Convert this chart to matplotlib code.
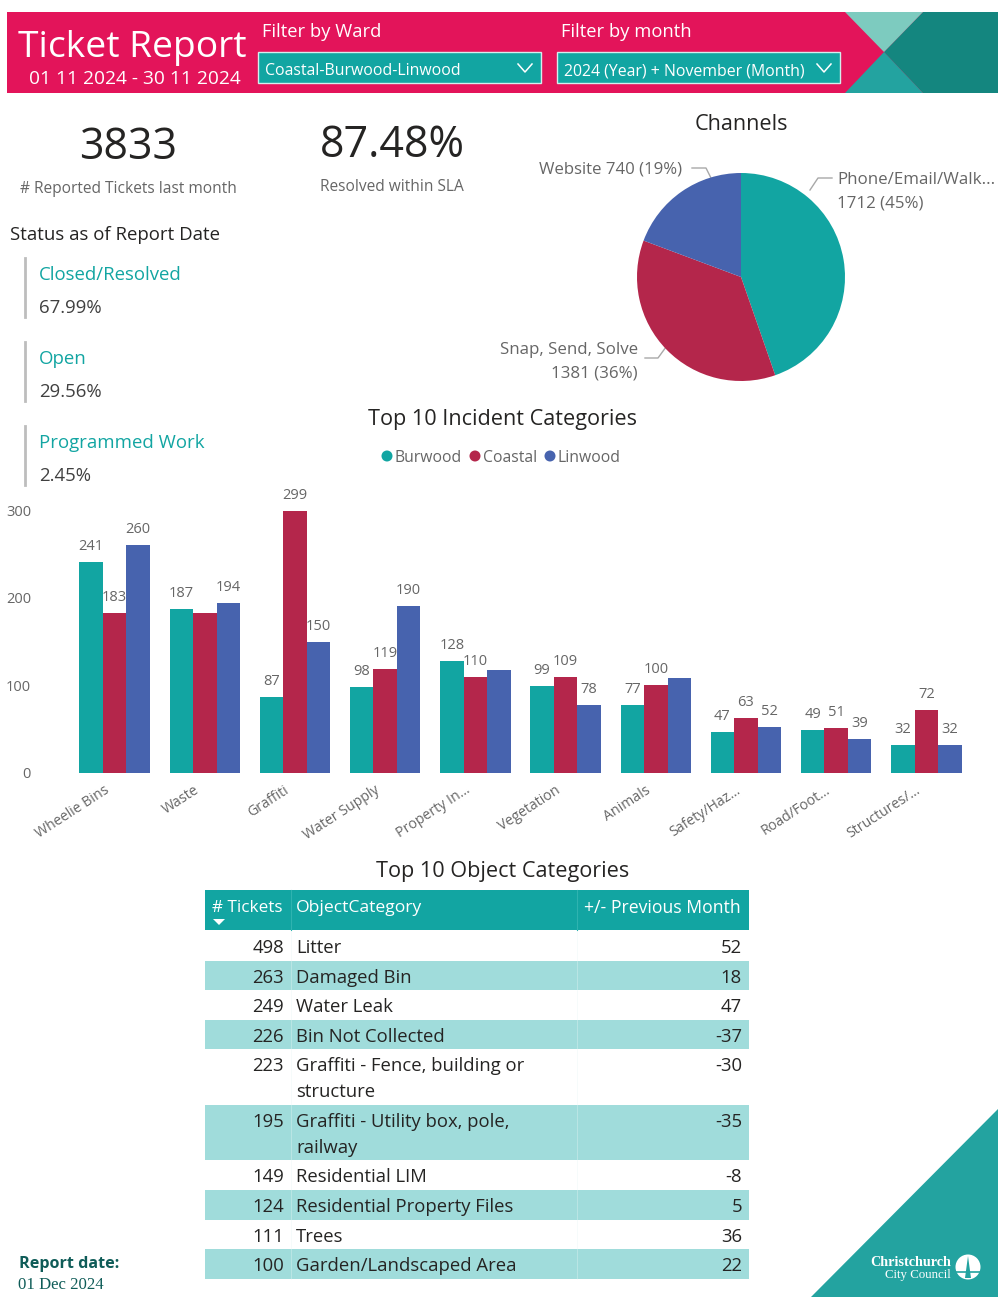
import matplotlib
matplotlib.use("Agg")
import matplotlib.pyplot as plt
from matplotlib.patches import Polygon, Rectangle, Circle
from matplotlib.transforms import ScaledTranslation

plt.rcParams['font.family'] = ['Open Sans', 'DejaVu Sans']

TEAL = '#12A5A2'
CRIMSON = '#B4264B'
BLUE = '#4763AE'
PINK = '#E3145A'
GREY = '#666666'
DARK = '#252423'

wards = ['Burwood', 'Coastal', 'Linwood']
ward_colors = [TEAL, CRIMSON, BLUE]
incident_cats = ['Wheelie Bins', 'Waste', 'Graffiti', 'Water Supply', 'Property In...',
                 'Vegetation', 'Animals', 'Safety/Haz...', 'Road/Foot...', 'Structures/...']
burwood = [241, 187, 87, 98, 128, 99, 77, 47, 49, 32]
coastal = [183, 183, 299, 119, 110, 109, 100, 63, 51, 72]
linwood = [260, 194, 150, 190, 117, 78, 108, 52, 39, 32]
# the report leaves these bars without a label
unlabelled = [(1, 1), (2, 4), (2, 6)]

channel_values = [1712, 1381, 740]
channel_colors = [TEAL, CRIMSON, BLUE]

tickets = [498, 263, 249, 226, 223, 195, 149, 124, 111, 100]
objects = ['Litter', 'Damaged Bin', 'Water Leak', 'Bin Not Collected',
           'Graffiti - Fence, building or\nstructure', 'Graffiti - Utility box, pole,\nrailway',
           'Residential LIM', 'Residential Property Files', 'Trees', 'Garden/Landscaped Area']
prev_month = [52, 18, 47, -37, -30, -35, -8, 5, 36, 22]

W, H = 1004, 1311
fig = plt.figure(figsize=(W / 100, H / 100), dpi=100)

# page layer in pixel coordinates
page = fig.add_axes([0, 0, 1, 1])
page.set_xlim(0, W)
page.set_ylim(H, 0)
page.axis('off')


def axes_px(x0, y0, x1, y1):
    return fig.add_axes([x0 / W, 1 - y1 / H, (x1 - x0) / W, (y1 - y0) / H])


def label(x, y, s, size, color=DARK, ha='left', **kw):
    page.text(x, y + 4, s, fontsize=size, color=color, ha=ha, va='center', **kw)


def chevron(x, y):
    page.plot([x - 7, x, x + 7], [y - 4, y + 4, y - 4], color='white', lw=1.1)


# banner
page.add_patch(Rectangle((7, 12), 991, 81, color=PINK, lw=0))
page.add_patch(Polygon([(923, 12), (998, 12), (998, 93), (923, 93), (884, 52)], color='#14867F', lw=0))
page.add_patch(Polygon([(845, 12), (923, 12), (884, 52)], color='#7DCBBF', lw=0))
page.add_patch(Polygon([(845, 93), (923, 93), (884, 52)], color='#23A3A0', lw=0))
label(132, 44, 'Ticket Report', 26.8, 'white', ha='center')
label(135, 75, '01 11 2024 - 30 11 2024', 13.8, 'white', ha='center')
label(262, 28, 'Filter by Ward', 13.2, 'white')
label(561, 28, 'Filter by month', 13.2, 'white')
for x0, x1, s in [(258, 541, 'Coastal-Burwood-Linwood'), (557, 840, '2024 (Year) + November (Month)')]:
    page.add_patch(Rectangle((x0, 52), x1 - x0, 31, fc=TEAL, ec='#D5EEEE', lw=1))
    label(x0 + 7, 67, s, 11.4, 'white')
    chevron(x1 - 16, 68)

# KPI cards
label(128, 144, '3833', 31, ha='center')
label(128, 185, '# Reported Tickets last month', 11.2, GREY, ha='center')
label(392, 142, '87.48%', 31, ha='center')
label(392, 183, 'Resolved within SLA', 11.2, GREY, ha='center')

label(10, 231, 'Status as of Report Date', 13.4)
for y, name, pct in [(258, 'Closed/Resolved', '67.99%'), (342, 'Open', '29.56%'), (426, 'Programmed Work', '2.45%')]:
    page.plot([25, 25], [y, y + 59], color='#BDBDBD', lw=2)
    label(39, y + 13, name, 13.4, TEAL)
    label(39, y + 46, pct, 13.4, '#404040')

# channels pie
label(741, 120, 'Channels', 15.6, ha='center')
ax_pie = axes_px(637, 173, 845, 381)
ax_pie.pie(channel_values, colors=channel_colors, startangle=90, counterclock=False, radius=1,
           wedgeprops={'lw': 0})
ax_pie.set_xlim(-1, 1)
ax_pie.set_ylim(-1, 1)
label(837, 176, 'Phone/Email/Walk...', 12.2, GREY)
label(837, 200, '1712 (45%)', 12.2, GREY)
page.plot([810, 818, 832], [190, 178, 178], color='#A8A8A8', lw=1)
label(682, 166, 'Website 740 (19%)', 12.1, GREY, ha='right')
page.plot([692, 706, 711], [168, 168, 178], color='#A8A8A8', lw=1)
label(638, 346, 'Snap, Send, Solve', 12.2, GREY, ha='right')
label(638, 370, '1381 (36%)', 12.2, GREY, ha='right')
page.plot([645, 658, 666], [358, 358, 347], color='#A8A8A8', lw=1)

# incident bars, 3 bars per group, 90.2px apart
label(503, 415, 'Top 10 Incident Categories', 15.6, ha='center')
for x, name, c in zip([387, 475, 550], wards, ward_colors):
    page.add_patch(Circle((x, 456), 5.5, color=c, lw=0))
    label(x + 8, 454, name, 11.3, GREY)

bar_w = 23.5
group_step = 90.2
ax_bar = axes_px(0, 510, W, 773)
ax_bar.set_xlim(-114.6, W - 114.6)
ax_bar.set_ylim(0, 300)
ax_bar.patch.set_alpha(0)
for i, (vals, c) in enumerate(zip([burwood, coastal, linwood], ward_colors)):
    xs = [g * group_step + (i - 1) * bar_w for g in range(len(vals))]
    ax_bar.bar(xs, vals, width=bar_w, color=c, lw=0)
    for g, (x, v) in enumerate(zip(xs, vals)):
        if (i, g) not in unlabelled:
            ax_bar.annotate(str(v), (x, v), xytext=(0, 8), textcoords='offset pixels', ha='center',
                            va='bottom', fontsize=10.5, color=GREY, annotation_clip=False)
for s in ax_bar.spines.values():
    s.set_visible(False)
ax_bar.set_yticks([])
ax_bar.set_xticks([g * group_step for g in range(len(incident_cats))])
ax_bar.set_xticklabels(incident_cats, rotation=33, ha='right', rotation_mode='anchor',
                       fontsize=10.2, color=GREY)
ax_bar.tick_params(axis='x', length=0, pad=7)
shift = ScaledTranslation(-11 / 100, 0, fig.dpi_scale_trans)
for t in ax_bar.get_xticklabels():
    t.set_transform(t.get_transform() + shift)
for v in [0, 100, 200, 300]:
    label(31, 771 - v * 263 / 300, str(v), 10.5, GREY, ha='right')

# object table
label(503, 868, 'Top 10 Object Categories', 15.6, ha='center')
t_left, t_right = 205, 749
page.add_patch(Rectangle((t_left, 890), t_right - t_left, 40, color=TEAL, lw=0))
label(212, 904, '# Tickets', 12.3, 'white')
label(296, 904, 'ObjectCategory', 12.6, 'white')
label(741, 904, '+/- Previous Month', 12.7, 'white', ha='right')
page.add_patch(Polygon([(213, 919), (225, 919), (219, 925)], color='white', lw=0))

y = 931
for i, (n, name, d) in enumerate(zip(tickets, objects, prev_month)):
    wrapped = '\n' in name
    h = 55.5 if wrapped else 29.6
    if i % 2 == 1:
        page.add_patch(Rectangle((t_left, y), t_right - t_left, h, color='#A0DCDB', lw=0))
    y_text = y + 13
    label(284, y_text, str(n), 13.3, ha='right')
    label(742, y_text, str(d), 13.3, ha='right')
    for k, part in enumerate(name.split('\n')):
        label(296, y_text + k * 26, part, 13.3)
    y += h

# column dividers
for x in [291, 577]:
    page.plot([x, x], [890, 930], color='#2FB3B0', lw=0.8)
    page.plot([x, x], [931, y], color='#E8F6F6', lw=0.5, alpha=0.5)

# footer
label(19, 1260, 'Report date:', 11.6, '#0F5C58', fontweight='bold')
label(18, 1281, '01 Dec 2024', 12.1, '#0F5C58', family='Liberation Serif')
page.add_patch(Polygon([(811, 1297), (998, 1297), (998, 1109)], color='#23A3A0', lw=0))
label(951, 1259, 'Christchurch', 10.2, 'white', ha='right', family='Liberation Serif', fontweight='bold')
label(951, 1271, 'City Council', 9.3, 'white', ha='right', family='Liberation Serif')
page.add_patch(Circle((968, 1267), 12.5, color='white', lw=0))
page.add_patch(Polygon([(965, 1278), (971, 1278), (968, 1256)], color='#23A3A0', lw=0))
page.plot([956, 980], [1272, 1272], color='#23A3A0', lw=1.2)

fig.savefig('out.png', dpi=100)
